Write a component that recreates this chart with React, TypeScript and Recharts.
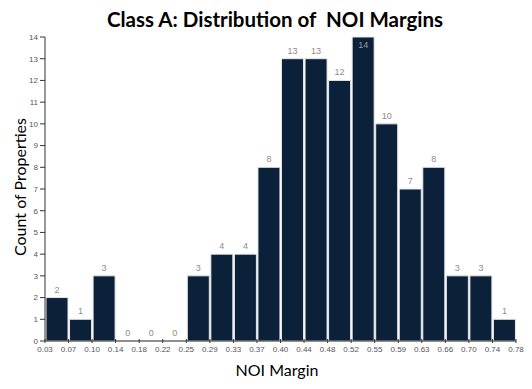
import React from "react";
import { BarChart, Bar, XAxis, YAxis, LabelList } from "recharts";

const binLabels = [
  "0.03-0.07", "0.07-0.10", "0.10-0.14", "0.14-0.18", "0.18-0.22",
  "0.22-0.25", "0.25-0.29", "0.29-0.33", "0.33-0.37", "0.37-0.40",
  "0.40-0.44", "0.44-0.48", "0.48-0.52", "0.52-0.55", "0.55-0.59",
  "0.59-0.63", "0.63-0.66", "0.66-0.70", "0.70-0.74", "0.74-0.78",
];
const counts = [2, 1, 3, 0, 0, 0, 3, 4, 4, 8, 13, 13, 12, 14, 10, 7, 8, 3, 3, 1];
const edgeLabels = [
  "0.03", "0.07", "0.10", "0.14", "0.18", "0.22", "0.25", "0.29", "0.33", "0.37",
  "0.40", "0.44", "0.48", "0.52", "0.55", "0.59", "0.63", "0.66", "0.70", "0.74", "0.78",
];
const yTicks = [0, 1, 2, 3, 4, 5, 6, 7, 8, 9, 10, 11, 12, 13, 14];

const data = binLabels.map((bin, i) => ({ bin, count: counts[i] }));

const FONT = "Liberation Sans, Arial, sans-serif";

const EdgeTick = (props: any) => {
  const { x, y, payload, index } = props;
  const half = payload && payload.offset ? payload.offset : 0;
  const i = index ?? payload.index;
  const marks: Array<[number, string]> = [[x - half, edgeLabels[i]]];
  if (i === binLabels.length - 1) marks.push([x + half, edgeLabels[i + 1]]);
  return (
    <g>
      {marks.map(([mx, lab], k) => (
        <g key={k}>
          <line x1={mx} x2={mx} y1={y - 8} y2={y - 4} stroke="#333" strokeWidth={1} />
          <text x={mx} y={y + 5} textAnchor="middle" fontSize={8} fill="#555" fontFamily={FONT}>
            {lab}
          </text>
        </g>
      ))}
    </g>
  );
};

const renderLabel = (props: any) => {
  const { x, y, width, value } = props;
  const inside = y < 45;
  return (
    <text
      x={x + width / 2}
      y={inside ? y + 11 : y - 5}
      textAnchor="middle"
      fontSize={9}
      fontFamily={FONT}
      fill={inside ? "#9a9a9a" : "#8c8c8c"}
    >
      {String(value)}
    </text>
  );
};

const minSize = (value: any) => (value === 0 ? 0.5 : 0);

export default function App() {
  return (
    <div style={{ position: "absolute", left: 0, top: 0, width: 532, height: 389, background: "#fff" }}>
      <div
        style={{
          position: "absolute",
          left: 0,
          width: 550,
          top: 7,
          textAlign: "center",
          fontFamily: "Lato, 'Open Sans', sans-serif",
          fontWeight: 700,
          fontSize: 20.5,
          color: "#000",
          whiteSpace: "pre",
        }}
      >
        {"Class A: Distribution of  NOI Margins"}
      </div>
      <div
        style={{
          position: "absolute",
          left: 0,
          width: 554,
          top: 360,
          textAlign: "center",
          fontFamily: "Lato, 'Open Sans', sans-serif",
          fontSize: 16,
          color: "#000",
        }}
      >
        NOI Margin
      </div>
      <div
        style={{
          position: "absolute",
          left: 19,
          top: 187,
          transform: "translate(-50%, -50%) rotate(-90deg)",
          fontFamily: "Lato, 'Open Sans', sans-serif",
          fontSize: 16,
          color: "#000",
          whiteSpace: "nowrap",
        }}
      >
        Count of Properties
      </div>
      <BarChart
        width={532}
        height={389}
        data={data}
        margin={{ top: 37, right: 16, left: 0, bottom: 28 }}
        barCategoryGap={1}
      >
        <XAxis
          dataKey="bin"
          interval={0}
          tick={<EdgeTick />}
          tickLine={false}
          tickSize={4}
          axisLine={{ stroke: "#333" }}
          height={20}
        />
        <YAxis
          domain={[0, 14]}
          ticks={yTicks}
          interval={0}
          width={45}
          tickSize={5}
          tick={{ fontSize: 8, fill: "#555", fontFamily: FONT }}
          tickLine={{ stroke: "#333" }}
          axisLine={{ stroke: "#333" }}
        />
        <Bar
          dataKey="count"
          fill="#0b2039"
          stroke="#e6e6e6"
          strokeWidth={1}
          minPointSize={minSize}
          isAnimationActive={false}
        >
          <LabelList dataKey="count" content={renderLabel} />
        </Bar>
      </BarChart>
    </div>
  );
}
